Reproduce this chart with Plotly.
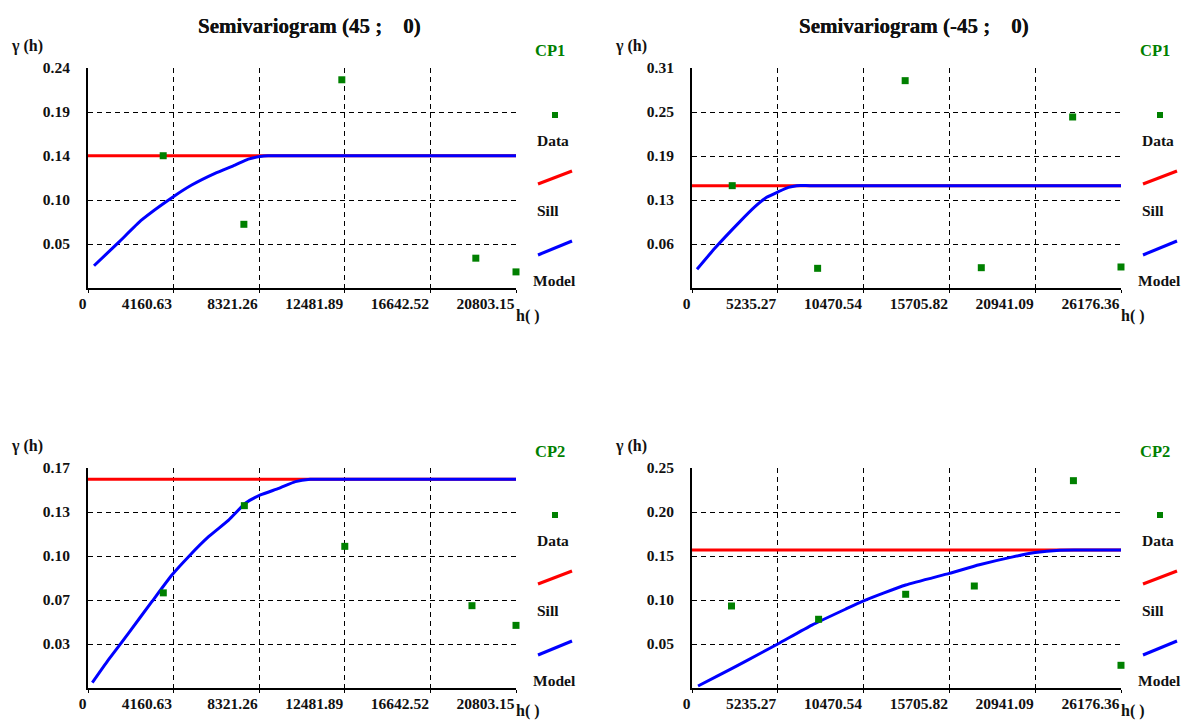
import plotly.graph_objects as go

W, H = 1186, 722
FONT = "Liberation Serif"

# ---------------- data ----------------
# Panel 1: CP1, direction 45
p1_lag = [3655, 7576, 12337, 18850, 20803]
p1_gamma = [0.1437, 0.0692, 0.2262, 0.0324, 0.0175]
p1_model_h = [292, 1473, 2610, 4146, 5040, 6173, 7145, 7792, 8360, 8750, 9500, 20803]
p1_model_g = [0.0242, 0.0492, 0.0739, 0.0992, 0.1119, 0.1246, 0.1336, 0.1400, 0.1428, 0.1437, 0.1437, 0.1437]
p1_sill = 0.1437
p1_xticks = ["0", "4160.63", "8321.26", "12481.89", "16642.52", "20803.15"]
p1_yticks = ["0.05", "0.10", "0.14", "0.19", "0.24"]
p1_xmax, p1_ymax = 20803.15, 0.239

# Panel 2: CP1, direction -45
p2_lag = [2455, 7665, 13007, 17652, 23226, 26176]
p2_gamma = [0.1456, 0.0280, 0.2950, 0.0289, 0.2433, 0.0299]
p2_model_h = [306, 1391, 2820, 3843, 4555, 5272, 5885, 6394, 7200, 26176]
p2_model_g = [0.0266, 0.0565, 0.0920, 0.1157, 0.1290, 0.1370, 0.1432, 0.1456, 0.1456, 0.1456]
p2_sill = 0.1456
p2_xticks = ["0", "5235.27", "10470.54", "15705.82", "20941.09", "26176.36"]
p2_yticks = ["0.06", "0.13", "0.19", "0.25", "0.31"]
p2_xmax, p2_ymax = 26176.36, 0.313

# Panel 3: CP2, direction 45
p3_lag = [3660, 7600, 12482, 18663, 20803]
p3_gamma = [0.0720, 0.1380, 0.1072, 0.0623, 0.0474]
p3_model_h = [210, 989, 1963, 3103, 4078, 4887, 5861, 6835, 7649, 8380, 9272, 10085, 10800, 11600, 20803]
p3_model_g = [0.0040, 0.0212, 0.0414, 0.0653, 0.0855, 0.0994, 0.1145, 0.1271, 0.1398, 0.1461, 0.1511,
              0.1562, 0.1579, 0.1579, 0.1579]
p3_sill = 0.1579
p3_xticks = ["0", "4160.63", "8321.26", "12481.89", "16642.52", "20803.15"]
p3_yticks = ["0.03", "0.07", "0.10", "0.13", "0.17"]
p3_xmax, p3_ymax = 20803.15, 0.1665

# Panel 4: CP2, direction -45
p4_lag = [2411, 7724, 13038, 17226, 23273, 26176]
p4_gamma = [0.0932, 0.0781, 0.1065, 0.1159, 0.2356, 0.0258]
p4_model_h = [368, 1594, 3229, 5235, 7315, 9359, 10470, 13038, 15705, 17532, 19576, 20941, 22436, 23500, 26176]
p4_model_g = [0.0023, 0.0140, 0.0300, 0.0500, 0.0715, 0.0895, 0.0990, 0.1170, 0.1303, 0.1400, 0.1490,
              0.1540, 0.1566, 0.1568, 0.1568]
p4_sill = 0.1568
p4_xticks = ["0", "5235.27", "10470.54", "15705.82", "20941.09", "26176.36"]
p4_yticks = ["0.05", "0.10", "0.15", "0.20", "0.25"]
p4_xmax, p4_ymax = 26176.36, 0.25

titles = ["Semivariogram (45 ;\u00a0\u00a0\u00a0 0)", "Semivariogram (-45 ;\u00a0\u00a0\u00a0 0)",
          "Semivariogram (45 ;\u00a0\u00a0\u00a0 0)", "Semivariogram (-45 ;\u00a0\u00a0\u00a0 0)"]
groups = ["CP1", "CP1", "CP2", "CP2"]

panels = [
    (p1_lag, p1_gamma, p1_model_h, p1_model_g, p1_sill, p1_xticks, p1_yticks, p1_xmax, p1_ymax),
    (p2_lag, p2_gamma, p2_model_h, p2_model_g, p2_sill, p2_xticks, p2_yticks, p2_xmax, p2_ymax),
    (p3_lag, p3_gamma, p3_model_h, p3_model_g, p3_sill, p3_xticks, p3_yticks, p3_xmax, p3_ymax),
    (p4_lag, p4_gamma, p4_model_h, p4_model_g, p4_sill, p4_xticks, p4_yticks, p4_xmax, p4_ymax),
]

# ---------------- layout (pixel boxes) ----------------
# (left, right, top, bottom) of each plotting area in pixels
boxes = [(88, 516, 68, 288), (692, 1121, 68, 288), (88, 516, 468, 688), (692, 1121, 468, 688)]


def px(x):
    return x / W


def py(y):
    return 1 - y / H


GREEN = "#008000"
TXT = "#111111"
fig = go.Figure()
annotations = []
shapes = []
tickfont = dict(family=FONT, size=15.5, color=TXT, weight="bold")


def tfont(size, color=TXT):
    return dict(family=FONT, size=size, color=color, weight="bold")


for i, (lag, gam, mh, mg, sill, xt, yt, xmax, ymax) in enumerate(panels):
    n = i + 1
    xa = "x" if n == 1 else f"x{n}"
    ya = "y" if n == 1 else f"y{n}"
    L, R, T, B = boxes[i]

    # sill (red) below model (blue)
    fig.add_trace(go.Scatter(x=[0, xmax], y=[sill, sill], mode="lines",
                             line=dict(color="#ff0000", width=3), xaxis=xa, yaxis=ya,
                             showlegend=False, hoverinfo="skip"))
    fig.add_trace(go.Scatter(x=mh, y=mg, mode="lines",
                             line=dict(color="#0000ff", width=3, shape="spline", smoothing=0.5),
                             xaxis=xa, yaxis=ya, showlegend=False))
    fig.add_trace(go.Scatter(x=lag, y=gam, mode="markers",
                             marker=dict(symbol="square", size=7, color=GREEN),
                             xaxis=xa, yaxis=ya, showlegend=False, cliponaxis=False))

    xstep = xmax / 5
    ystep = ymax / 5
    axkey_x = "xaxis" if n == 1 else f"xaxis{n}"
    axkey_y = "yaxis" if n == 1 else f"yaxis{n}"
    fig.update_layout(**{
        axkey_x: dict(domain=[px(L), px(R)], anchor=ya, range=[0, xmax], automargin=False,
                      tickvals=[xstep * k for k in range(6)], ticktext=xt,
                      ticklabelposition="outside left", ticks="outside", ticklen=3,
                      tickcolor="black", tickwidth=1,
                      showline=True, linecolor="black", linewidth=2,
                      showgrid=True, gridcolor="black", gridwidth=1, griddash="5px,4px",
                      zeroline=False, tickfont=tickfont, fixedrange=True),
        axkey_y: dict(domain=[py(B), py(T)], anchor=xa, range=[0, ymax], automargin=False,
                      tickvals=[ystep * k for k in range(1, 6)], ticktext=yt,
                      ticks="", ticklabelstandoff=13,
                      showline=True, linecolor="black", linewidth=2,
                      showgrid=True, gridcolor="black", gridwidth=1, griddash="5px,4px",
                      zeroline=False, tickfont=tickfont, fixedrange=True),
    })

    # text decorations
    annotations.append(dict(text=titles[i], x=px((L + R) / 2 + 7), y=py(26), xref="paper", yref="paper",
                            showarrow=False, font=tfont(21), xanchor="center", yanchor="middle"))
    annotations.append(dict(text="γ (h)", x=px(L - 61), y=py(T - 22), xref="paper", yref="paper",
                            showarrow=False, font=tfont(16), xanchor="center", yanchor="middle"))
    annotations.append(dict(text="h( )", x=px(R + 12), y=py(min(B + 28, H - 11)), xref="paper", yref="paper",
                            showarrow=False, font=tfont(16), xanchor="center", yanchor="middle"))
    annotations.append(dict(text=groups[i], x=px(R + 34), y=py(T - 17), xref="paper", yref="paper",
                            showarrow=False, font=tfont(16.5, GREEN), xanchor="center", yanchor="middle"))
    for lbl, dy, dx in (("Data", 72, 37), ("Sill", 142, 32), ("Model", 212, 38)):
        annotations.append(dict(text=lbl, x=px(R + dx), y=py(T + dy), xref="paper", yref="paper",
                                showarrow=False, font=tfont(15.5), xanchor="center", yanchor="middle"))
    # legend swatches
    shapes.append(dict(type="rect", xref="paper", yref="paper",
                       x0=px(R + 36), x1=px(R + 42), y0=py(T + 44), y1=py(T + 50),
                       fillcolor=GREEN, line=dict(width=0)))
    shapes.append(dict(type="line", xref="paper", yref="paper",
                       x0=px(R + 22), y0=py(T + 116), x1=px(R + 56), y1=py(T + 103),
                       line=dict(color="#ff0000", width=3)))
    shapes.append(dict(type="line", xref="paper", yref="paper",
                       x0=px(R + 22), y0=py(T + 187), x1=px(R + 56), y1=py(T + 173),
                       line=dict(color="#0000ff", width=3)))

fig.update_layout(width=W, height=H, margin=dict(l=0, r=0, t=0, b=0, pad=0, autoexpand=False),
                  autosize=False,
                  paper_bgcolor="white", plot_bgcolor="white", showlegend=False,
                  font=dict(family=FONT),
                  annotations=annotations, shapes=shapes)

fig.write_html("out.html")
